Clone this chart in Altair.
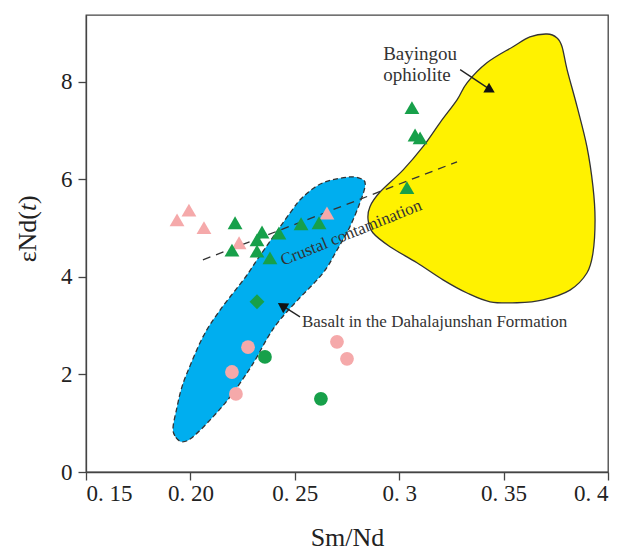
import altair as alt
import pandas as pd

# ---------------- data ----------------
pink_tri_x = [0.1936, 0.1993, 0.2065, 0.2233, 0.2654]
pink_tri_y = [5.17, 5.37, 5.01, 4.70, 5.31]
green_tri_x = [0.2214, 0.2343, 0.2319, 0.2199, 0.2319, 0.2381, 0.2424, 0.2530, 0.2616,
               0.3061, 0.3076, 0.3100, 0.3037]
green_tri_y = [5.11, 4.92, 4.76, 4.55, 4.53, 4.39, 4.90, 5.09, 5.11,
               7.47, 6.91, 6.85, 5.83]
pink_circ_x = [0.2276, 0.2199, 0.2218, 0.2702, 0.2750]
pink_circ_y = [2.56, 2.05, 1.60, 2.67, 2.32]
green_circ_x = [0.2357, 0.2625]
green_circ_y = [2.36, 1.50]
green_dia_x = [0.2319]
green_dia_y = [3.49]

# Bayingou ophiolite field outline
bay_x = [0.2851, 0.2860, 0.2908, 0.3018, 0.3114, 0.3195, 0.3277, 0.3325, 0.3420, 0.3545,
         0.3626, 0.3708, 0.3756, 0.3780, 0.3804, 0.3852, 0.3899, 0.3928, 0.3938, 0.3928,
         0.3899, 0.3818, 0.3689, 0.3564, 0.3435, 0.3325, 0.3210, 0.3085, 0.2956, 0.2875]
bay_y = [5.17, 5.44, 5.74, 6.19, 6.67, 7.16, 7.63, 7.98, 8.39, 8.72,
         8.92, 8.98, 8.90, 8.72, 8.25, 7.49, 6.67, 5.85, 5.17, 4.49,
         4.08, 3.73, 3.53, 3.47, 3.49, 3.67, 3.94, 4.29, 4.62, 4.90]

# Dahalajunshan basalt field outline
bas_x = [0.1960, 0.1926, 0.1917, 0.1936, 0.1955, 0.1984, 0.2060, 0.2142, 0.2261, 0.2319,
         0.2396, 0.2477, 0.2539, 0.2635, 0.2764, 0.2827, 0.2836, 0.2812, 0.2764, 0.2702,
         0.2635, 0.2515, 0.2429, 0.2372, 0.2319, 0.2271, 0.2190, 0.2108, 0.2012]
bas_y = [0.62, 0.74, 0.92, 1.33, 1.68, 2.03, 2.77, 3.32, 3.98, 4.35,
         4.82, 5.31, 5.64, 5.93, 6.05, 5.99, 5.85, 5.52, 5.03, 4.55,
         4.08, 3.53, 3.12, 2.77, 2.36, 2.03, 1.54, 1.13, 0.72]

# crustal contamination trend
trend_x = [0.2060, 0.3277]
trend_y = [4.35, 6.36]

x_ticks = [0.15, 0.20, 0.25, 0.30, 0.35, 0.40]
x_tick_labels = ["0.  15", "0.  20", "0.  25", "0.  3", "0.  35", "0.  4"]
y_ticks = [0, 2, 4, 6, 8]

SERIF = "Liberation Serif"
GREEN = "#17a04a"
PINK = "#f5a9aa"
TXT = "#333333"

# ---------------- scales ----------------
xs = alt.Scale(domain=[0.15, 0.40], nice=False, zero=False)
ys = alt.Scale(domain=[0, 9.37], nice=False, zero=False)

label_expr = " : ".join(
    [f"abs(datum.value - {v}) < 1e-6 ? '{l}'" for v, l in zip(x_ticks, x_tick_labels)]
) + " : ''"

X = alt.X("x:Q", scale=xs,
          axis=alt.Axis(values=x_ticks, labelExpr=label_expr, title="Sm/Nd", grid=False,
                        tickSize=8, labelPadding=2, titlePadding=19, titleFontSize=26))
Y = alt.Y("y:Q", scale=ys,
          axis=alt.Axis(values=y_ticks, title=None, grid=False, tickSize=8,
                        labelPadding=6))

def df(x, y, **extra):
    d = pd.DataFrame({"x": x, "y": y})
    for k, v in extra.items():
        d[k] = v
    return d

bay = df(bay_x, bay_y, i=list(range(len(bay_x))))
bas = df(bas_x, bas_y, i=list(range(len(bas_x))))

bay_layer = alt.Chart(bay).mark_line(
    interpolate="cardinal-closed", fill="#fff200", stroke="#333333", strokeWidth=1.3
).encode(x=X, y=Y, order="i:Q")

bas_layer = alt.Chart(bas).mark_line(
    interpolate="cardinal-closed", fill="#00aeef", stroke="#333333", strokeWidth=1.3,
    strokeDash=[5, 3]
).encode(x="x:Q", y="y:Q", order="i:Q")

trend_layer = alt.Chart(df(trend_x, trend_y)).mark_line(
    stroke="#333333", strokeWidth=1.3, strokeDash=[8, 6]
).encode(x="x:Q", y="y:Q")

def pts(x, y, shape, color, size):
    return alt.Chart(df(x, y)).mark_point(
        shape=shape, filled=True, color=color, opacity=1, size=size, strokeWidth=0
    ).encode(x="x:Q", y="y:Q")

layers = [
    bay_layer, bas_layer, trend_layer,
    pts(pink_tri_x, pink_tri_y, "triangle-up", PINK, 220),
    pts(green_tri_x, green_tri_y, "triangle-up", GREEN, 220),
    pts(pink_circ_x, pink_circ_y, "circle", PINK, 190),
    pts(green_circ_x, green_circ_y, "circle", GREEN, 190),
    pts(green_dia_x, green_dia_y, "diamond", GREEN, 220),
]

# annotation arrows
arrow_x = [0.3292, 0.3425, 0.2525, 0.2444]
arrow_y = [8.25, 7.87, 3.18, 3.40]
arrow_id = [0, 0, 1, 1]
head_x = [0.3437, 0.2439]
head_y = [7.83, 3.41]
head_angle = [120, 302]

layers.append(alt.Chart(pd.DataFrame({"x": arrow_x, "y": arrow_y, "g": arrow_id})).mark_line(
    stroke="#222222", strokeWidth=1.3).encode(x="x:Q", y="y:Q", detail="g:N"))
layers.append(alt.Chart(pd.DataFrame({"x": head_x, "y": head_y, "a": head_angle})).mark_point(
    shape="triangle-up", filled=True, color="#111111", opacity=1, size=130, strokeWidth=0
).encode(x="x:Q", y="y:Q", angle=alt.Angle("a:Q", scale=None)))

# annotation texts
layers.append(alt.Chart(pd.DataFrame({"x": [0.3100, 0.3085], "y": [8.45, 8.02],
                                      "t": ["Bayingou", "ophiolite"]})).mark_text(
    font=SERIF, fontSize=19, color=TXT, align="center", baseline="alphabetic"
).encode(x="x:Q", y="y:Q", text="t:N"))
layers.append(alt.Chart(pd.DataFrame({"x": [0.2534], "y": [2.97],
                                      "t": ["Basalt in the Dahalajunshan Formation"]})).mark_text(
    font=SERIF, fontSize=17, color=TXT, align="left", baseline="alphabetic"
).encode(x="x:Q", y="y:Q", text="t:N"))
layers.append(alt.Chart(pd.DataFrame({"x": [0.2770], "y": [4.90],
                                      "t": ["Crustal contamination"]})).mark_text(
    font=SERIF, fontSize=17, color=TXT, align="center", baseline="middle", angle=338
).encode(x="x:Q", y="y:Q", text="t:N"))

# y-axis title  εNd(t)  with italic t, written vertically
ytitle_parts = ["εNd(", "t", ")"]
ytitle_style = ["normal", "italic", "normal"]
ytitle_align = ["right", "left", "left"]
ytitle_off = [196, 196, 189]
for part, sty, al, off in zip(ytitle_parts, ytitle_style, ytitle_align, ytitle_off):
    layers.append(alt.Chart(pd.DataFrame({"t": [part]})).mark_text(
        font=SERIF, fontSize=26, fontStyle=sty, color="#222222", align=al,
        baseline="middle", angle=270
    ).encode(x=alt.value(-58), y=alt.value(off), text="t:N"))

chart = alt.layer(*layers).properties(
    width=522, height=457,
    autosize=alt.AutoSizeParams(type="none"),
    padding={"left": 78, "top": 7, "right": 20, "bottom": 78},
    background="white",
).configure_view(
    stroke="#444444", strokeWidth=1.3
).configure_axis(
    domainColor="#444444", tickColor="#444444", domainWidth=1.3, tickWidth=1.3,
    labelFont=SERIF, labelFontSize=23, labelColor="#222222",
    titleFont=SERIF, titleFontSize=26, titleColor="#222222", titleFontWeight="normal",
)

chart.save("out.html", embed_options={"renderer": "svg", "actions": False})
